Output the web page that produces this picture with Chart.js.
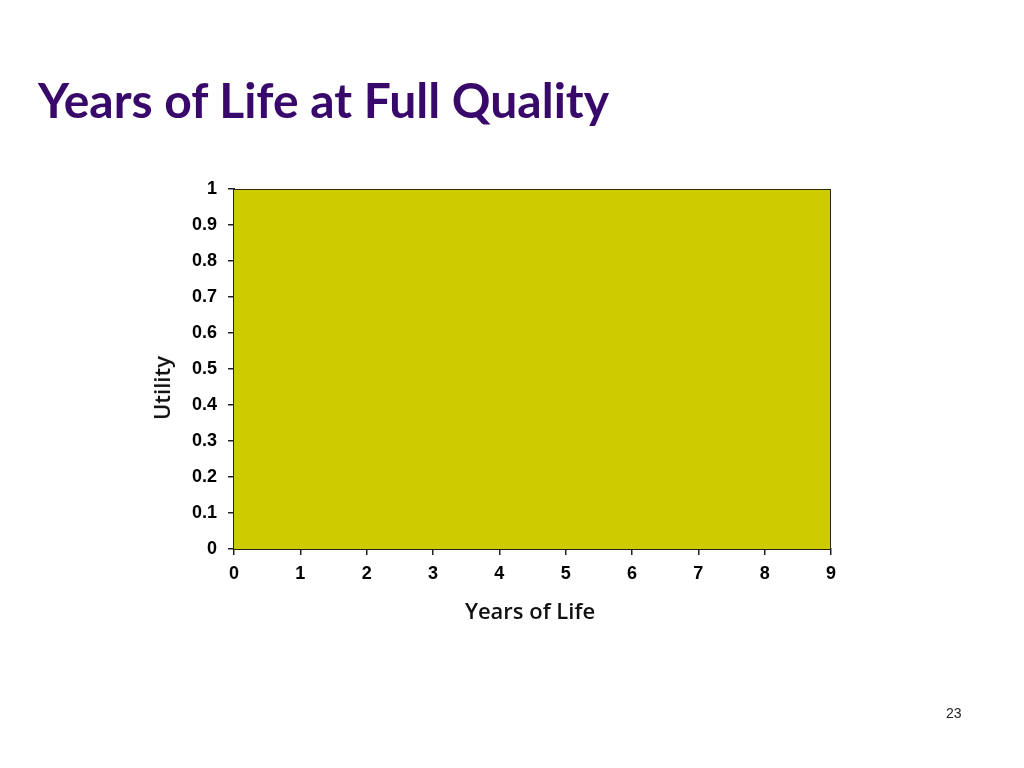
<!DOCTYPE html>
<html>
<head>
<meta charset="utf-8">
<script src="https://cdn.jsdelivr.net/npm/chart.js@4"></script>
<style>
  html, body { margin: 0; padding: 0; background: #fff; }
  #wrap { position: relative; width: 1024px; height: 768px; overflow: hidden; }
  #title { position: absolute; left: 38px; top: 71px; font-family: Lato, "Open Sans", sans-serif; font-weight: bold; font-size: 48px; color: #38096a; white-space: nowrap; }
  #pageNum { position: absolute; left: 946px; top: 705px; font-family: "Liberation Sans", Arial, sans-serif; font-size: 14px; color: #222; }
  .axisTitle { position: absolute; font-family: "Open Sans", sans-serif; font-weight: 600; font-size: 22px; color: #111; white-space: nowrap; }
  #xTitle { left: 530px; top: 610px; transform: translate(-50%, -50%); }
  #yTitle { left: 161px; top: 388px; transform: translate(-50%, -50%) rotate(-90deg); }
  #qualityChart { position: absolute; left: 0; top: 0; }
</style>
</head>
<body>
<div id="wrap">
  <canvas id="qualityChart" width="1024" height="768"></canvas>
  <div id="title">Years of Life at Full Quality</div>
  <div class="axisTitle" id="xTitle">Years of Life</div>
  <div class="axisTitle" id="yTitle">Utility</div>
  <div id="pageNum">23</div>
</div>
<script>
// full quality for 9 years, then the curve drops to zero at the end
const years = [0, 1, 2, 3, 4, 5, 6, 7, 8, 9, 9];
const utility = [1, 1, 1, 1, 1, 1, 1, 1, 1, 1, 0];
const xTicks = [0, 1, 2, 3, 4, 5, 6, 7, 8, 9];
const yTicks = [0, 0.1, 0.2, 0.3, 0.4, 0.5, 0.6, 0.7, 0.8, 0.9, 1];

const ctx = document.getElementById('qualityChart').getContext('2d');

const tickFont = { family: '"Liberation Sans", Arial, sans-serif', size: 18, weight: 'bold' };

const qualityChart = new Chart(ctx, {
  type: 'line',
  data: {
    datasets: [{
      data: years.map((x, i) => ({ x: x, y: utility[i] })),
      backgroundColor: '#cccc00',
      borderColor: '#2b2b00',
      borderWidth: 2,
      fill: 'origin',
      pointRadius: 0,
      tension: 0
    }]
  },
  options: {
    responsive: false,
    animation: false,
    layout: { padding: { left: 140, right: 193, top: 189, bottom: 128 } },
    plugins: {
      legend: { display: false },
      tooltip: { enabled: false }
    },
    scales: {
      x: {
        type: 'linear',
        min: 0,
        max: 9,
        afterBuildTicks: (scale) => { scale.ticks = xTicks.map(v => ({ value: v })); },
        afterFit: (scale) => { scale.height = 91; },
        grid: { drawOnChartArea: false, drawTicks: true, tickLength: 6, color: '#222', lineWidth: 1.5 },
        border: { display: true, color: '#222', width: 2 },
        ticks: { color: '#000', font: tickFont, padding: 8, maxRotation: 0 },
        title: { display: false }
      },
      y: {
        min: 0,
        max: 1,
        afterBuildTicks: (scale) => { scale.ticks = yTicks.map(v => ({ value: v })); },
        afterFit: (scale) => { scale.width = 94; },
        grid: { drawOnChartArea: false, drawTicks: true, tickLength: 6, color: '#222', lineWidth: 1.5 },
        border: { display: true, color: '#222', width: 2 },
        ticks: { color: '#000', font: tickFont, padding: 11, callback: (v) => String(v) },
        title: { display: false }
      }
    }
  }
});
</script>
</body>
</html>
